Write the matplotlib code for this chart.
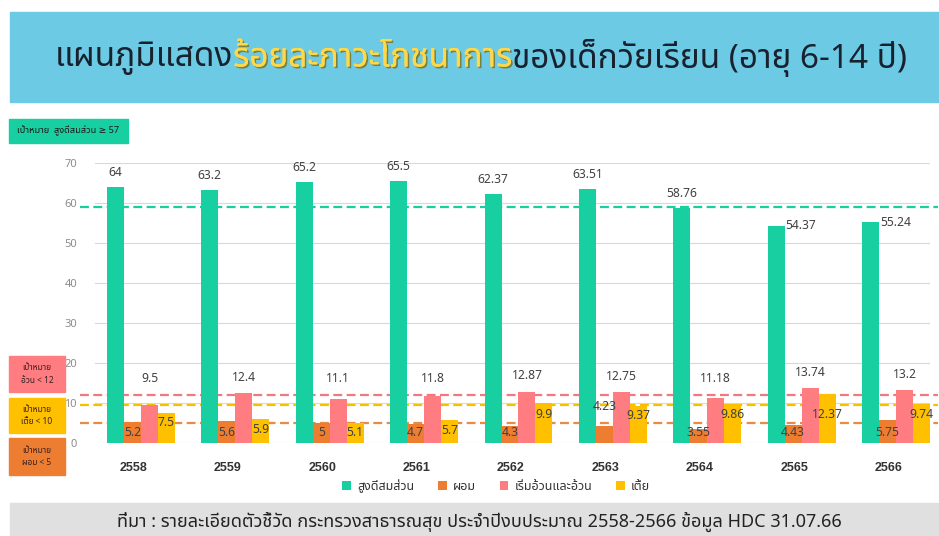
import matplotlib
matplotlib.use("Agg")
import matplotlib.pyplot as plt
import matplotlib.patheffects as pe
from matplotlib.patches import Rectangle
import numpy as np

plt.rcParams['font.family'] = ['Noto Sans Thai', 'Noto Sans', 'DejaVu Sans']

W, H = 939, 536

years = ['2558', '2559', '2560', '2561', '2562', '2563', '2564', '2565', '2566']
normal = [64, 63.2, 65.2, 65.5, 62.37, 63.51, 58.76, 54.37, 55.24]
wasted = [5.2, 5.6, 5, 4.7, 4.3, 4.23, 3.55, 4.43, 5.75]
obese = [9.5, 12.4, 11.1, 11.8, 12.87, 12.75, 11.18, 13.74, 13.2]
stunted = [7.5, 5.9, 5.1, 5.7, 9.9, 9.37, 9.86, 12.37, 9.74]

series_names = ['สูงดีสมส่วน', 'ผอม', 'เริ่มอ้วนและอ้วน', 'เตี้ย']
# target lines as drawn on the chart
target_normal = 59
target_obese = 12
target_stunted = 9.5
target_wasted = 5

GREEN = '#17CFA0'
ORANGE = '#ED7D31'
PINK = '#FF7C80'
YELLOW = '#FFC000'
TXT = '#404040'


def fx(px):
    return px / W


def fy(py):
    return 1 - py / H


def box(x0, y0, x1, y1, color):
    fig.patches.append(Rectangle((fx(x0), fy(y1)), fx(x1) - fx(x0), fy(y0) - fy(y1),
                                 transform=fig.transFigure, color=color, zorder=0))


fig = plt.figure(figsize=(W / 100, H / 100), dpi=100)

# title banner
box(10, 12, 938, 102, '#6DCAE4')
renderer = fig.canvas.get_renderer()
parts = [('แผนภูมิแสดง', '#17222E', None),
         ('ร้อยละภาวะโภชนาการ', '#FFD84A',
          [pe.withSimplePatchShadow(offset=(1.2, -1.2), shadow_rgbFace='#7a6200', alpha=0.7), pe.Normal()]),
         ('ของเด็กวัยเรียน (อายุ 6-14 ปี)', '#17222E', None)]
title_texts = []
for s, c, eff in parts:
    t = fig.text(0, fy(58), s, color=c, fontsize=24, fontweight='bold', va='center', ha='left')
    if eff:
        t.set_path_effects(eff)
    title_texts.append(t)
widths = [t.get_window_extent(renderer).width for t in title_texts]
x = 481 - sum(widths) / 2
for t, w in zip(title_texts, widths):
    t.set_x(fx(x))
    x += w

# target boxes on the left
box(9, 119, 128, 143, GREEN)
fig.text(fx(68), fy(131), 'เป้าหมาย  สูงดีสมส่วน ≥ 57', fontsize=6.6, color='#1a1a1a',
         ha='center', va='center')
for (y0, y1, c, s) in [(356, 392, PINK, 'เป้าหมาย\nอ้วน < 12'),
                       (398, 433, YELLOW, 'เป้าหมาย\nเตี้ย < 10'),
                       (438, 475, ORANGE, 'เป้าหมาย\nผอม < 5')]:
    box(9, y0, 65, y1, c)
    fig.text(fx(37), fy((y0 + y1) / 2), s, fontsize=6, color='#3a2020',
             ha='center', va='center', linespacing=1.5)

# footer
box(10, 503, 938, 536, '#E0E0E0')
fig.text(fx(479), fy(522), 'ที่มา : รายละเอียดตัวชี้วัด กระทรวงสาธารณสุข ประจำปีงบประมาณ 2558-2566 ข้อมูล HDC 31.07.66',
         fontsize=13, color='#222222', ha='center', va='center')

# chart
ax = fig.add_axes([fx(95), fy(443), fx(930) - fx(95), fy(163) - fy(443)])
ax.set_facecolor('none')
xs = np.arange(len(years))
bw = 0.18
colors = [GREEN, ORANGE, PINK, YELLOW]
bars = []
for i, (vals, c, name) in enumerate(zip([normal, wasted, obese, stunted], colors, series_names)):
    b = ax.bar(xs + (i - 1.5) * bw, vals, bw, color=c, label=name, zorder=3)
    bars.append(b)

ax.set_xlim(-0.487, 8.36)
ax.set_ylim(0, 70)
ax.set_yticks(range(0, 71, 10))
ax.yaxis.grid(True, color='#D9D9D9', linewidth=0.8, zorder=0)
for sp in ax.spines.values():
    sp.set_visible(False)
ax.tick_params(axis='y', length=0, pad=13, labelsize=8, labelcolor='#8C8C8C')
ax.tick_params(axis='x', length=0, pad=14, labelsize=9, labelcolor='#333333')
ax.set_xticks(xs - 0.08)
ax.set_xticklabels(years, fontweight='bold', family='Liberation Sans')

# target lines
for val, c in [(target_normal, GREEN), (target_obese, '#F2787F'),
               (target_stunted, '#F5C000'), (target_wasted, '#E98A45')]:
    ax.plot([-0.65, 8.45], [val, val], color=c, linewidth=1.6, dashes=(4, 2),
            zorder=2, clip_on=False)

# data labels
def fmt(v):
    return '{:g}'.format(v)

for i, v in enumerate(normal):
    xc = xs[i] - 1.5 * bw
    if i >= 7:
        ax.text(xc + bw / 2 + 0.01, v, fmt(v), ha='left', va='center', fontsize=8.7, color=TXT)
    else:
        ax.text(xc, v + 3.6, fmt(v), ha='center', va='center', fontsize=8.7, color=TXT)

for i, v in enumerate(wasted):
    yl = 9.2 if i == 5 else 2.7
    ax.text(xs[i] - 0.5 * bw, yl, fmt(v), ha='center', va='center', fontsize=8.7, color=TXT, zorder=5)

for i, v in enumerate(obese):
    ax.text(xs[i] + 0.5 * bw, max(v, target_obese) + 4, fmt(v), ha='center', va='center',
            fontsize=8.7, color=TXT, zorder=5)

for i, v in enumerate(stunted):
    ax.text(xs[i] + 1.5 * bw, min(v, target_stunted) - 2.5, fmt(v), ha='center', va='center',
            fontsize=8.7, color=TXT, zorder=5, clip_on=False)

fig.legend(handles=bars, labels=series_names, loc='center', bbox_to_anchor=(fx(496), fy(486)),
           ncol=4, frameon=False, fontsize=9, handlelength=0.7, handleheight=0.7,
           handletextpad=0.5, columnspacing=1.9, labelcolor='#333333')

fig.savefig('out.png', dpi=100)
